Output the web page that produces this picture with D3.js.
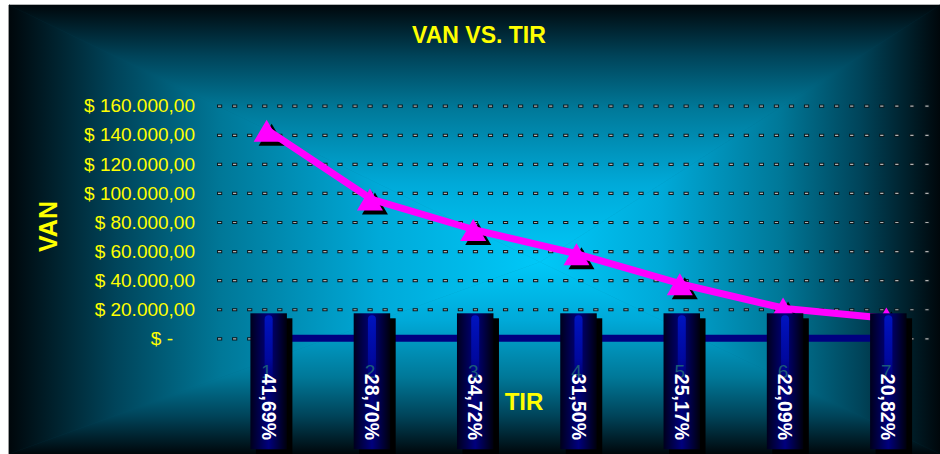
<!DOCTYPE html>
<html><head><meta charset="utf-8">
<script src="https://cdn.jsdelivr.net/npm/d3@7/dist/d3.min.js"></script>
<style>html,body{margin:0;padding:0;background:#fff;}svg{display:block;}</style>
</head><body>
<svg id="c" width="940" height="454"></svg>
<script>
const categories = ["1","2","3","4","5","6","7"];
const tirLabels = ["41,69%","28,70%","34,72%","31,50%","25,17%","22,09%","20,82%"];
const vanValues = [142700, 95500, 74500, 57800, 37200, 20500, 13600];
const zeroValues = [0, 0, 0, 0, 0, 0, 0];
const yTicks = [0, 20000, 40000, 60000, 80000, 100000, 120000, 140000, 160000];
const yTickLabels = ["$ -","$ 20.000,00","$ 40.000,00","$ 60.000,00","$ 80.000,00","$ 100.000,00","$ 120.000,00","$ 140.000,00","$ 160.000,00"];

const FONT = "'Liberation Sans', Arial, Helvetica, sans-serif";
const svg = d3.select("#c");
const W = 940, H = 454;
const area = {x0: 9, y0: 5, x1: 940, y1: 454};
const plot = {left: 217, right: 940, top: 105.7, bottom: 338.3};

const x = d3.scaleBand().domain(categories).range([plot.left, plot.right]).padding(0);
const y = d3.scaleLinear().domain([0, 160000]).range([plot.bottom, plot.top]);
const cx = c => x(c) + x.bandwidth() / 2;

const defs = svg.append("defs");
// rectangular "from center" gradient made of four sides
const ctr = {x: 540, y: 262};
const stops = [[0, "#00c8f8"], [0.3, "#00aad9"], [0.6, "#007898"], [0.8, "#00445a"], [1, "#00070b"]];
const sides = [
  {id: "gT", pts: [[area.x0, area.y0], [area.x1, area.y0], [ctr.x, ctr.y]], g: [ctr.x, ctr.y, ctr.x, area.y0]},
  {id: "gB", pts: [[area.x0, area.y1], [area.x1, area.y1], [ctr.x, ctr.y]], g: [ctr.x, ctr.y, ctr.x, area.y1]},
  {id: "gL", pts: [[area.x0, area.y0], [area.x0, area.y1], [ctr.x, ctr.y]], g: [ctr.x, ctr.y, area.x0, ctr.y]},
  {id: "gR", pts: [[area.x1, area.y0], [area.x1, area.y1], [ctr.x, ctr.y]], g: [ctr.x, ctr.y, area.x1, ctr.y]}
];
sides.forEach(s => {
  const lg = defs.append("linearGradient").attr("id", s.id).attr("gradientUnits", "userSpaceOnUse")
    .attr("x1", s.g[0]).attr("y1", s.g[1]).attr("x2", s.g[2]).attr("y2", s.g[3]);
  stops.forEach(st => lg.append("stop").attr("offset", st[0]).attr("stop-color", st[1]));
});
const barG = defs.append("linearGradient").attr("id", "barG").attr("x1", 0).attr("x2", 1).attr("y1", 0).attr("y2", 0);
[[0, "#00001c"], [0.5, "#00007e"], [1, "#00000c"]].forEach(s => barG.append("stop").attr("offset", s[0]).attr("stop-color", s[1]));
const pillG = defs.append("linearGradient").attr("id", "pillG").attr("x1", 0).attr("x2", 0).attr("y1", 0).attr("y2", 1);
[[0, "#0014c0", 1], [0.6, "#000cb0", 0.7], [1, "#000090", 0]].forEach(s => pillG.append("stop").attr("offset", s[0]).attr("stop-color", s[1]).attr("stop-opacity", s[2]));

// background
svg.append("rect").attr("width", W).attr("height", H).attr("fill", "#fff");
svg.append("rect").attr("x", area.x0).attr("y", area.y0).attr("width", area.x1 - area.x0).attr("height", area.y1 - area.y0).attr("fill", "#005068");
sides.forEach(s => svg.append("polygon").attr("points", s.pts.map(p => p.join(",")).join(" "))
  .attr("fill", `url(#${s.id})`).attr("stroke", `url(#${s.id})`).attr("stroke-width", 0.6));
svg.append("line").attr("x1", area.x0 - 0.5).attr("x2", area.x0 - 0.5).attr("y1", area.y0).attr("y2", H).attr("stroke", "#9a9a9a").attr("stroke-width", 1);

// gridlines
const gridW = 932 - plot.left;
const grid1 = svg.append("g").attr("transform", `translate(${plot.left},0)`)
  .call(d3.axisLeft(y).tickValues(yTicks).tickSize(-gridW).tickFormat(""));
grid1.select(".domain").remove();
grid1.selectAll("line").attr("stroke", "#0a1a20").attr("stroke-width", 3.2).attr("stroke-dasharray", "5.2 9.85");
const grid2 = svg.append("g").attr("transform", `translate(${plot.left},0)`)
  .call(d3.axisLeft(y).tickValues(yTicks).tickSize(-gridW).tickFormat(""));
grid2.select(".domain").remove();
grid2.selectAll("line").attr("stroke", "#b4b4b4").attr("stroke-width", 1.2).attr("stroke-dasharray", "3.2 11.85").attr("stroke-dashoffset", -1);

// y tick labels
const yl = svg.append("g").attr("font-family", FONT).attr("font-size", 19).attr("fill", "#ffff00");
yTicks.forEach((t, i) => {
  yl.append("text").attr("x", t === 0 ? 173 : 195).attr("y", y(t)).attr("dy", "0.35em")
    .attr("text-anchor", "end").text(yTickLabels[i]);
});

// zero series (navy)
const line = d3.line().x((d, i) => cx(categories[i])).y(d => y(d));
svg.append("path").datum(zeroValues).attr("d", line).attr("fill", "none")
  .attr("stroke", "#000080").attr("stroke-width", 7);

// VAN series
const tri = (px, py) => `M${px},${py - 11}L${px + 13},${py + 11}L${px - 13},${py + 11}Z`;
svg.append("g").selectAll("path").data(vanValues).join("path")
  .attr("d", (d, i) => tri(cx(categories[i]) + 3, y(d) + 4)).attr("fill", "#000");
svg.append("path").datum(vanValues).attr("d", line).attr("fill", "none")
  .attr("stroke", "#ff00ff").attr("stroke-width", 7).attr("stroke-linejoin", "round");
svg.append("g").selectAll("path").data(vanValues).join("path")
  .attr("d", (d, i) => tri(cx(categories[i]) - 2, y(d))).attr("fill", "#ff00ff");

// category label boxes
const bw = 36.5, bTop = y(0) - 25, bH = 136;
const bars = svg.append("g").selectAll("g").data(categories).join("g")
  .attr("transform", c => `translate(${cx(c)},0)`);
bars.append("rect").attr("x", -bw / 2 + 5.5).attr("y", bTop + 5).attr("width", bw).attr("height", bH).attr("fill", "#000");
bars.append("rect").attr("x", -bw / 2).attr("y", bTop).attr("width", bw).attr("height", bH).attr("fill", "url(#barG)");
bars.append("rect").attr("x", -4).attr("y", bTop + 2).attr("width", 8).attr("height", 72).attr("rx", 4).attr("fill", "url(#pillG)");
bars.append("text").attr("x", -2).attr("y", 371).attr("dy", "0.35em").attr("text-anchor", "middle")
  .attr("font-family", FONT).attr("font-size", 19).attr("fill", "#1c5a78").text(c => c);
bars.append("text").attr("transform", "translate(0,440) rotate(90)").attr("text-anchor", "end")
  .attr("dominant-baseline", "central").attr("font-family", FONT).attr("font-weight", "bold")
  .attr("font-size", 19.5).attr("fill", "#ffffff").text((c, i) => tirLabels[i]);

// titles
svg.append("text").attr("x", 479).attr("y", 43.3).attr("text-anchor", "middle").attr("font-family", FONT)
  .attr("font-weight", "bold").attr("font-size", 23).attr("fill", "#ffff00").text("VAN VS. TIR");
svg.append("text").attr("transform", "translate(57,226.5) rotate(-90)").attr("text-anchor", "middle").attr("font-family", FONT)
  .attr("font-weight", "bold").attr("font-size", 25).attr("fill", "#ffff00").text("VAN");
svg.append("text").attr("x", 524).attr("y", 410).attr("text-anchor", "middle").attr("font-family", FONT)
  .attr("font-weight", "bold").attr("font-size", 24).attr("fill", "#ffff00").text("TIR");
</script>
</body></html>
